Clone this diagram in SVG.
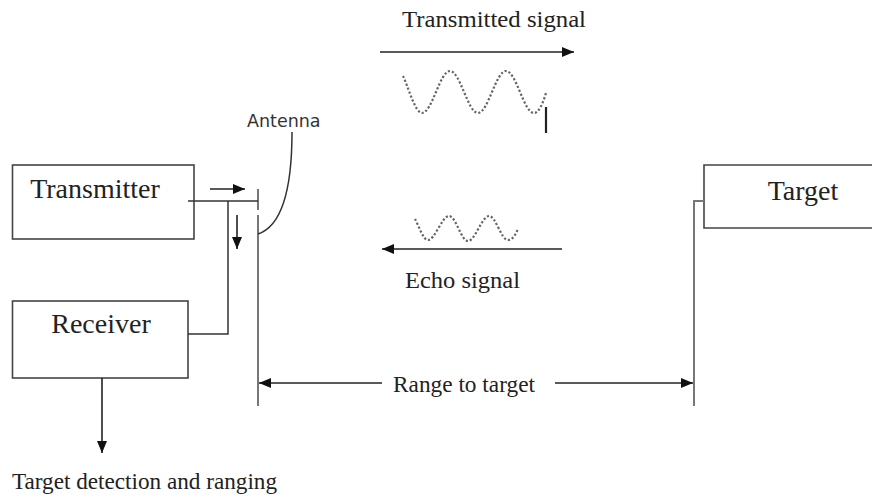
<svg xmlns="http://www.w3.org/2000/svg" width="872" height="495" viewBox="0 0 872 495">
<defs>
<marker id="ah" viewBox="0 0 12 10" refX="12" refY="5" markerWidth="12" markerHeight="10" markerUnits="userSpaceOnUse" orient="auto">
<path d="M0,0 L12,5 L0,10 Z" fill="#111"/>
</marker>
<style>
.box{fill:#fff;stroke:#444;stroke-width:1.6}
.lbl{font-family:"Liberation Serif","Times New Roman",serif;fill:#222}
.big{font-size:28px}
.sm{font-size:23px}
.ln{fill:none;stroke:#333;stroke-width:1.5}
.gl{fill:none;stroke:#777;stroke-width:2}
.arr{fill:none;stroke:#222;stroke-width:1.6;marker-end:url(#ah)}
.wave{fill:none;stroke:#666;stroke-width:2.2;stroke-dasharray:2.2 2}
.ant{font-family:"DejaVu Sans",Verdana,sans-serif;font-size:17.5px;fill:#333}
</style>
</defs>
<rect width="872" height="495" fill="#fff"/>

<g id="transmitter">
<rect class="box" x="12.5" y="165" width="181.5" height="74"/>
<text class="lbl big" x="95" y="198" text-anchor="middle">Transmitter</text>
</g>

<g id="receiver">
<rect class="box" x="12.5" y="301" width="175.5" height="77"/>
<text class="lbl big" x="101" y="333" text-anchor="middle">Receiver</text>
</g>

<g id="target">
<path class="box" d="M874,165 H704 V228 H874"/>
<text class="lbl big" x="803" y="200" text-anchor="middle">Target</text>
</g>

<g id="antenna">
<line class="gl" x1="258" y1="189" x2="258" y2="210"/>
<line class="gl" x1="258" y1="215" x2="258" y2="406"/>
<text class="ant" x="247" y="127">Antenna</text>
<path class="ln" d="M292,132 C292,180 285,225 258,234" stroke="#555"/>
</g>

<g id="signals">
<text class="lbl sm" x="402" y="27" textLength="184" lengthAdjust="spacingAndGlyphs">Transmitted signal</text>
<path class="wave" d="M403,76 C408,86 415,113 422,113 C432.2,113 439.8,71 450,71 C460.2,71 467.8,113 478,113 C488.2,113 495.8,71 506,71 C516.2,71 523.8,113 534,113 C539,113 543,103 546,93"/>
<line x1="546" y1="107" x2="546" y2="133" stroke="#222" stroke-width="2.2"/>
<path class="wave" d="M415,219 C419,226 423,240 428,240 C435,240 442,216 449,216 C456,216 461,241 468,241 C475,241 482,216 489,216 C496,216 501,240 508,240 C512,240 515,236 518,229" stroke-width="1.8"/>
<text class="lbl sm" x="405" y="288" textLength="115" lengthAdjust="spacingAndGlyphs">Echo signal</text>
<text class="lbl sm" x="393" y="392" textLength="142" lengthAdjust="spacingAndGlyphs">Range to target</text>
<text class="lbl sm" x="12" y="489" textLength="265" lengthAdjust="spacingAndGlyphs">Target detection and ranging</text>
</g>

<g id="connectors">
<polyline class="ln" points="188,201 258,201"/>
<polyline class="ln" points="228,201 228,334 188,334"/>
<polyline class="gl" points="704,201 694,201 694,406"/>
<line class="arr" x1="210" y1="189" x2="245" y2="189"/>
<line class="arr" x1="237" y1="215" x2="237" y2="249"/>
<line class="arr" x1="102" y1="378" x2="102" y2="453"/>
<line class="arr" x1="380" y1="52" x2="574" y2="52"/>
<line class="arr" x1="562" y1="249" x2="382" y2="249"/>
<line class="arr" x1="382" y1="383" x2="259" y2="383"/>
<line class="arr" x1="555" y1="383" x2="693" y2="383"/>
</g>
</svg>
